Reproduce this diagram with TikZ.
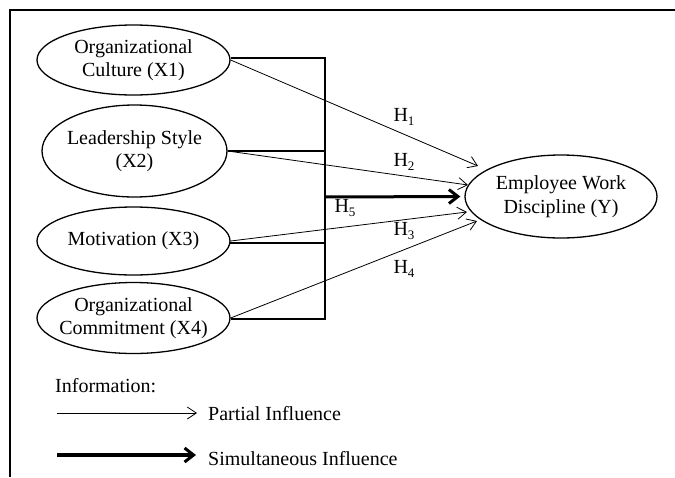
\documentclass[tikz,border=0pt]{standalone}
\usepackage{fontspec}
\setmainfont{Liberation Serif}
\usetikzlibrary{arrows.meta,shapes.geometric}
\newcommand{\hsub}[1]{H\raisebox{-0.35ex}{\fontsize{13}{13}\selectfont #1}}
\begin{document}
\begin{tikzpicture}[x=1pt,y=-1pt,
  ell/.style={ellipse,draw,line width=1.3pt,inner xsep=-25pt,inner ysep=-6pt,align=center,font=\fontsize{20}{23.5}\selectfont},
  bus/.style={line width=2.4pt},
  partial/.style={line width=0.8pt,-{Straight Barb[length=9pt,width=12pt,line width=0.8pt]}},
  simult/.style={line width=3pt,-{Straight Barb[length=9pt,width=14pt,line width=3pt]}},
  lbl/.style={font=\fontsize{20}{24}\selectfont,inner sep=0pt}]
\useasboundingbox (0,0) rectangle (675,477);
% frame
\draw[line width=1.3pt] (10,477) -- (10,10) -- (676,10);
% nodes
\node[ell,minimum width=193pt,minimum height=70pt] (x1) at (133.5,60) {Organizational\\Culture (X1)};
\node[ell,minimum width=185pt,minimum height=92pt] (x2) at (134.5,151) {Leadership Style\\(X2)};
\node[ell,minimum width=193pt,minimum height=68pt] (x3) at (133.5,241) {Motivation (X3)};
\node[ell,minimum width=193pt,minimum height=71pt] (x4) at (133.5,318) {Organizational\\Commitment (X4)};
\node[ell,minimum width=192pt,minimum height=83pt] (y) at (561,196.5) {Employee Work\\Discipline (Y)};
% bus
\coordinate (bt) at (325,58);
\coordinate (bb) at (325,319);
\coordinate (bm) at (325,197);
\draw[bus] (x1.east |- bt) -- (bt) -- (bb) -- (x4.east |- bb);
\draw[bus] (x2.east) -- (x2.east -| bt);
\draw[bus] (230,243) -- (325,243);
\draw[simult] (bm) -- ([xshift=-4pt]y.west);
% partial arrows
\coordinate (t1) at (478,166);
\coordinate (t2) at (468,185);
\coordinate (t3) at (467,212);
\coordinate (t4) at (477,221);
\draw[partial] (x1.east) -- (t1);
\draw[partial] (x2.east) -- (t2);
\draw[partial] (x3.east) -- (t3);
\draw[partial] (x4.east) -- (t4);
% labels
\node[lbl] (h1) at (404,117) {\hsub{1}};
\node[lbl] (h2) at (404,162) {\hsub{2}};
\node[lbl] (h5) at (345,208) {\hsub{5}};
\node[lbl] (h3) at (404,231) {\hsub{3}};
\node[lbl] (h4) at (404,269) {\hsub{4}};
% legend
\node[lbl,anchor=base west] (info) at (55,392) {Information:};
\coordinate (la) at (57,413);
\coordinate (lb) at (197,413);
\draw[partial] (la) -- (lb);
\node[lbl,anchor=base west] (pi) at (208,420) {Partial Influence};
\coordinate (lc) at (57,455);
\coordinate (ld) at (196,455);
\draw[simult,line width=3.5pt] (lc) -- (ld);
\node[lbl,anchor=base west] (si) at (208,465) {Simultaneous Influence};
\end{tikzpicture}
\end{document}
